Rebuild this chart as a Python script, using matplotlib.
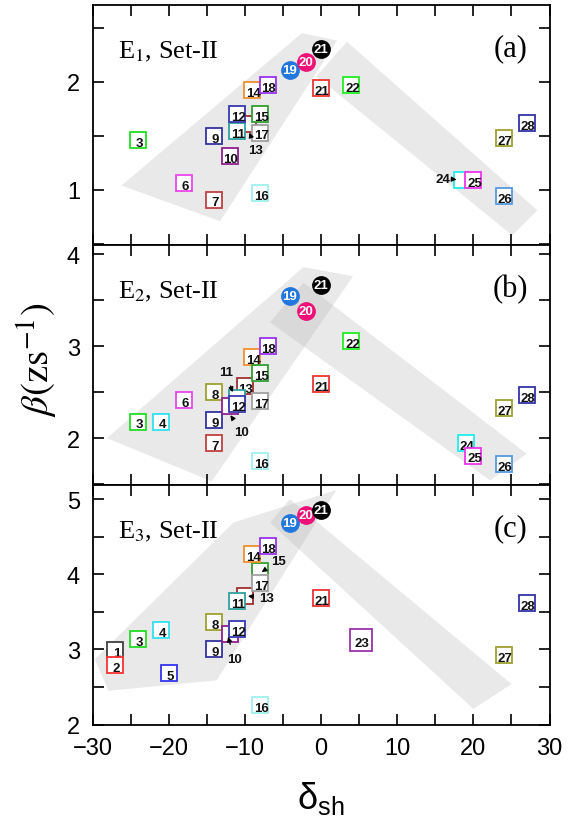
import matplotlib
matplotlib.use("Agg")
import matplotlib.pyplot as plt
from matplotlib.patches import Polygon
from matplotlib.ticker import MultipleLocator

plt.rcParams['font.family'] = ['Liberation Sans', 'DejaVu Sans']
plt.rcParams['mathtext.fontset'] = 'custom'
plt.rcParams['mathtext.rm'] = 'Liberation Sans'
plt.rcParams['mathtext.it'] = 'Liberation Sans:italic'

# ---------------- data ----------------
COL = {
    '1': '#404040', '2': '#ff3030', '3': '#22dd22', '4': '#33e0f0', '5': '#3333ee',
    '6': '#ee44ee', '7': '#c04040', '8': '#a0a030', '9': '#3333a0', '10': '#902090',
    '11': '#30a0a0', '12': '#3838b0', '13': '#a03030', '14': '#f09030', '15': '#30a030',
    '16': '#a0f0f0', '17': '#a0a0a0', '18': '#9933ee', '21': '#ee3333', '22': '#22ee22',
    '23': '#9933aa', '24': '#20eeee', '25': '#ee33ee', '26': '#5599dd', '27': '#a0a030',
    '28': '#3333aa',
}

# Panel (a)
a_labels = ['13', '3', '6', '7', '9', '10', '11', '12', '14', '15', '17', '16', '18',
            '21', '22', '24', '25', '26', '27', '28']
a_x = [-9.6, -24.0, -18.0, -14.0, -14.0, -12.0, -11.0, -11.0, -9.0, -8.0, -8.0, -8.0, -7.0,
       0.0, 4.0, 18.5, 20.0, 24.0, 24.0, 27.0]
a_y = [1.61, 1.46, 1.06, 0.91, 1.50, 1.31, 1.54, 1.70, 1.92, 1.70, 1.53, 0.97, 1.97,
       1.94, 1.97, 1.09, 1.09, 0.94, 1.48, 1.62]
a_hidden_text = ['13', '24']
a_circ_labels = ['19', '20', '21']
a_circ_x = [-4.1, -2.0, 0.0]
a_circ_y = [2.11, 2.18, 2.30]

# Panel (b)
b_labels = ['3', '4', '6', '7', '8', '9', '13', '10', '11', '12', '14', '15', '16', '17',
            '18', '21', '22', '24', '25', '26', '27', '28']
b_x = [-24.0, -21.0, -18.0, -14.0, -14.0, -14.0, -10.0, -12.0, -11.0, -11.0, -9.0, -8.0,
       -8.0, -8.0, -7.0, 0.0, 4.0, 19.0, 20.0, 24.0, 24.0, 27.0]
b_y = [2.18, 2.18, 2.41, 1.95, 2.50, 2.20, 2.57, 2.35, 2.44, 2.37, 2.88, 2.71,
       1.75, 2.40, 3.00, 2.59, 3.06, 1.95, 1.81, 1.72, 2.33, 2.47]
b_hidden_text = ['10', '11']
b_circ_labels = ['19', '20', '21']
b_circ_x = [-4.1, -2.0, 0.0]
b_circ_y = [3.55, 3.38, 3.66]

# Panel (c)
c_labels = ['1', '2', '3', '4', '5', '8', '9', '10', '12', '13', '11', '15', '17', '14',
            '18', '16', '21', '23', '27', '28']
c_x = [-27.0, -27.0, -24.0, -21.0, -20.0, -14.0, -14.0, -12.0, -11.0, -10.0, -11.0, -8.0,
       -8.0, -9.0, -7.0, -8.0, 0.0, 5.2, 24.0, 27.0]
c_y = [2.99, 2.79, 3.14, 3.26, 2.69, 3.36, 3.01, 3.21, 3.27, 3.71, 3.65, 4.05,
       3.88, 4.27, 4.38, 2.26, 3.69, 3.13, 2.93, 3.62]
c_hidden_text = ['10', '13', '15']
c_circ_labels = ['19', '20', '21']
c_circ_x = [-4.1, -2.0, 0.0]
c_circ_y = [4.69, 4.79, 4.85]

CIRC_COL = {'19': '#2277dd', '20': '#ee1177', '21': '#000000'}

# shaded regions (data coords)
a_poly_left = [(-26.2, 1.04), (-13.25, 0.71), (2.1, 2.38), (-2.5, 2.45)]
a_poly_right = [(-0.6, 2.05), (3.4, 2.37), (28.4, 0.81), (25.1, 0.58)]
b_poly_left = [(-28.1, 2.0), (-14.35, 1.53), (4.2, 3.76), (-2.3, 3.86)]
b_poly_right = [(-6.7, 3.26), (-2.3, 3.69), (27.0, 1.83), (22.2, 1.54)]
c_poly_left = [(-29.7, 2.87), (-27.9, 2.45), (-13.7, 2.59), (2.0, 5.12), (-11.5, 4.69)]
c_poly_right = [(-6.7, 4.69), (-4.1, 5.0), (25.0, 2.54), (20.0, 2.21)]

# outer labels with arrows: (text, text_x, text_y, tip_x, tip_y)
a_ann = [('13', -8.6, 1.37, -9.4, 1.53), ('24', 16.0, 1.105, 17.8, 1.095)]
b_ann = [('11', -12.5, 2.72, -11.6, 2.50), ('10', -10.4, 2.07, -11.9, 2.25)]
c_ann = [('10', -11.4, 2.88, -12.2, 3.17), ('13', -7.2, 3.69, -9.6, 3.71),
         ('15', -5.6, 4.18, -7.8, 4.03)]

xlim = (-30, 30)
a_ylim = (0.49, 2.71)
b_ylim = (1.49, 4.10)
c_ylim = (1.995, 5.19)

# ---------------- plotting ----------------
fig = plt.figure(figsize=(5.83, 8.28), dpi=100)
L, W, H = 0.1587, 0.7839, 0.2899
ax_a = fig.add_axes([L, 0.7029, W, H])
ax_b = fig.add_axes([L, 0.4130, W, H])
ax_c = fig.add_axes([L, 0.1232, W, H])

panels = [
    (ax_a, a_labels, a_x, a_y, a_hidden_text, a_circ_labels, a_circ_x, a_circ_y,
     [a_poly_left, a_poly_right], a_ann, a_ylim, '1', '(a)'),
    (ax_b, b_labels, b_x, b_y, b_hidden_text, b_circ_labels, b_circ_x, b_circ_y,
     [b_poly_left, b_poly_right], b_ann, b_ylim, '2', '(b)'),
    (ax_c, c_labels, c_x, c_y, c_hidden_text, c_circ_labels, c_circ_x, c_circ_y,
     [c_poly_left, c_poly_right], c_ann, c_ylim, '3', '(c)'),
]

for (ax, labs, xs, ys, hidden, clabs, cx, cy, polys, anns, ylim, eidx, ptag) in panels:
    for poly in polys:
        ax.add_patch(Polygon(poly, closed=True, facecolor='#b0b0b0', alpha=0.28,
                             edgecolor='none', zorder=1))
    for i, (lab, x, y) in enumerate(zip(labs, xs, ys)):
        ms = 15.5 if lab == '23' else 12
        ax.plot([x], [y], marker='s', ms=ms, mfc='white', mec=COL[lab], mew=1.3,
                linestyle='none', zorder=3 + i * 0.01)
        if lab not in hidden:
            ax.text(x + 0.15, y - 0.012 * (ylim[1] - ylim[0]), lab, ha='center',
                    va='center', fontsize=9.5, fontweight='bold', color='#111111',
                    zorder=3.005 + i * 0.01)
    for j, (lab, x, y) in enumerate(zip(clabs, cx, cy)):
        ax.plot([x], [y], marker='o', ms=12.5, mfc=CIRC_COL[lab], mec=CIRC_COL[lab],
                linestyle='none', zorder=5 + j * 0.01)
        ax.text(x, y, lab, ha='center', va='center', fontsize=9.5, fontweight='bold',
                color='white', zorder=5.005 + j * 0.01)
    for (t, tx, ty, px, py) in anns:
        ax.annotate(t, xy=(px, py), xytext=(tx, ty), ha='center', va='center',
                    fontsize=9.5, fontweight='bold', color='#111111', zorder=6,
                    arrowprops=dict(arrowstyle='-|>', color='black', lw=0.9,
                                    shrinkA=4, shrinkB=0, mutation_scale=7))
    ax.set_xlim(*xlim)
    ax.set_ylim(*ylim)
    ax.xaxis.set_major_locator(MultipleLocator(10))
    ax.xaxis.set_minor_locator(MultipleLocator(5))
    ax.yaxis.set_major_locator(MultipleLocator(1))
    ax.yaxis.set_minor_locator(MultipleLocator(0.5))
    ax.tick_params(which='both', direction='in', top=True, right=True, length=8,
                   width=1.2, labelsize=17, pad=9)
    for sp in ax.spines.values():
        sp.set_linewidth(1.3)
    ax.text(0.055, 0.81, 'E$_{' + eidx + '}$, Set-II', transform=ax.transAxes,
            fontsize=19, family='Liberation Serif', math_fontfamily='stix',
            ha='left', va='center')
    ax.text(0.915, 0.82, ptag, transform=ax.transAxes, fontsize=22,
            family='Liberation Serif', ha='center', va='center')
    if ax is not ax_c:
        ax.tick_params(labelbottom=False)

fig.text(0.064, 0.565, r'$\beta(\mathrm{zs}^{-1})$', rotation=90, ha='center',
         va='center', fontsize=28, math_fontfamily='stix')
fig.text(0.5506, 0.036, 'δ$_{\\mathrm{sh}}$', ha='center', va='center', fontsize=26)

fig.savefig('out.png', dpi=100)
